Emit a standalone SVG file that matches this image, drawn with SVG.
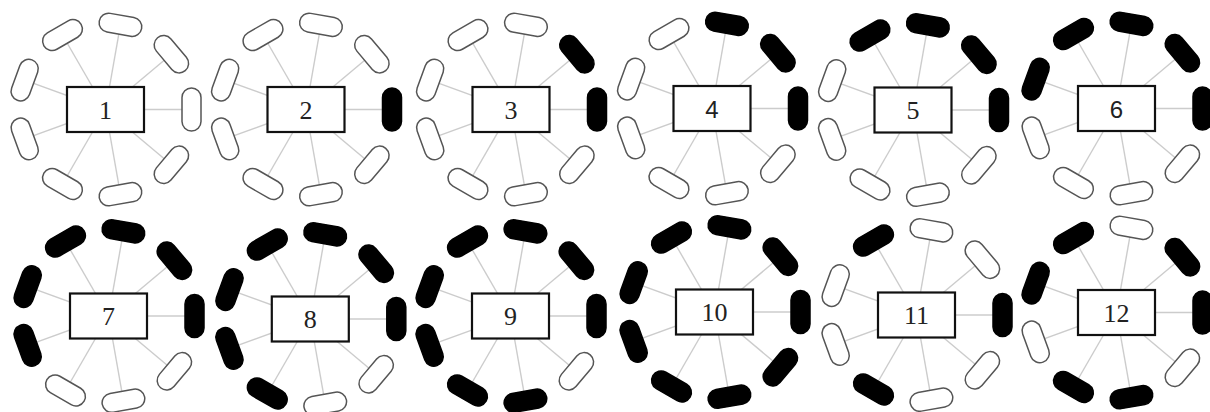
<svg xmlns="http://www.w3.org/2000/svg" xmlns:xlink="http://www.w3.org/1999/xlink" width="1210" height="412" viewBox="0 0 1210 412">
<style>
.bg{fill:#fff}
.conn{stroke:#cccccc;stroke-width:1.4;fill:none}
.box{fill:#fff;stroke:#111;stroke-width:2.2}
.num{font-family:"Liberation Serif","Times New Roman",serif;font-size:26px;fill:#222;text-anchor:middle}
.sans{font-family:"Liberation Sans",Arial,sans-serif;font-size:24px}
.off{fill:#fff;stroke:#555;stroke-width:1.5}
.on{fill:#000;stroke:#000;stroke-width:1.5}
</style>
<defs>
<rect id="pill" x="-9.5" y="-21.5" width="19" height="43" rx="9.5" ry="9.5"/>
<g id="spokes">
<line x1="0" y1="0" x2="86" y2="0"/>
<line x1="0" y1="0" x2="86" y2="0" transform="rotate(40)"/>
<line x1="0" y1="0" x2="86" y2="0" transform="rotate(80)"/>
<line x1="0" y1="0" x2="86" y2="0" transform="rotate(120)"/>
<line x1="0" y1="0" x2="86" y2="0" transform="rotate(160)"/>
<line x1="0" y1="0" x2="86" y2="0" transform="rotate(200)"/>
<line x1="0" y1="0" x2="86" y2="0" transform="rotate(240)"/>
<line x1="0" y1="0" x2="86" y2="0" transform="rotate(280)"/>
<line x1="0" y1="0" x2="86" y2="0" transform="rotate(320)"/>
</g>
</defs>
<rect class="bg" x="0" y="0" width="1210" height="412"/>
<g id="connectors" class="conn">
<use xlink:href="#spokes" transform="translate(105.5,109.5)"/>
<use xlink:href="#spokes" transform="translate(306,109.5)"/>
<use xlink:href="#spokes" transform="translate(511,109.5)"/>
<use xlink:href="#spokes" transform="translate(712,108.5)"/>
<use xlink:href="#spokes" transform="translate(913,110)"/>
<use xlink:href="#spokes" transform="translate(1116.5,108.5)"/>
<use xlink:href="#spokes" transform="translate(108.5,316)"/>
<use xlink:href="#spokes" transform="translate(310.3,319)"/>
<use xlink:href="#spokes" transform="translate(510.5,316)"/>
<use xlink:href="#spokes" transform="translate(714.5,312)"/>
<use xlink:href="#spokes" transform="translate(916.5,315)"/>
<use xlink:href="#spokes" transform="translate(1116.5,312.5)"/>
</g>

<g id="panel-1" transform="translate(105.5,109.5)">
<g id="box-1"><rect class="box" x="-38.5" y="-22.5" width="77" height="45"/><text class="num" x="0" y="9">1</text></g>
<g id="pills-1">
<use xlink:href="#pill" class="off" transform="rotate(0) translate(86,0)"/>
<use xlink:href="#pill" class="off" transform="rotate(40) translate(86,0)"/>
<use xlink:href="#pill" class="off" transform="rotate(80) translate(86,0)"/>
<use xlink:href="#pill" class="off" transform="rotate(120) translate(86,0)"/>
<use xlink:href="#pill" class="off" transform="rotate(160) translate(86,0)"/>
<use xlink:href="#pill" class="off" transform="rotate(200) translate(86,0)"/>
<use xlink:href="#pill" class="off" transform="rotate(240) translate(86,0)"/>
<use xlink:href="#pill" class="off" transform="rotate(280) translate(86,0)"/>
<use xlink:href="#pill" class="off" transform="rotate(320) translate(86,0)"/>
</g>
</g>

<g id="panel-2" transform="translate(306,109.5)">
<g id="box-2"><rect class="box" x="-38.5" y="-22.5" width="77" height="45"/><text class="num" x="0" y="9">2</text></g>
<g id="pills-2">
<use xlink:href="#pill" class="on" transform="rotate(0) translate(86,0)"/>
<use xlink:href="#pill" class="off" transform="rotate(40) translate(86,0)"/>
<use xlink:href="#pill" class="off" transform="rotate(80) translate(86,0)"/>
<use xlink:href="#pill" class="off" transform="rotate(120) translate(86,0)"/>
<use xlink:href="#pill" class="off" transform="rotate(160) translate(86,0)"/>
<use xlink:href="#pill" class="off" transform="rotate(200) translate(86,0)"/>
<use xlink:href="#pill" class="off" transform="rotate(240) translate(86,0)"/>
<use xlink:href="#pill" class="off" transform="rotate(280) translate(86,0)"/>
<use xlink:href="#pill" class="off" transform="rotate(320) translate(86,0)"/>
</g>
</g>

<g id="panel-3" transform="translate(511,109.5)">
<g id="box-3"><rect class="box" x="-38.5" y="-22.5" width="77" height="45"/><text class="num" x="0" y="9">3</text></g>
<g id="pills-3">
<use xlink:href="#pill" class="on" transform="rotate(0) translate(86,0)"/>
<use xlink:href="#pill" class="off" transform="rotate(40) translate(86,0)"/>
<use xlink:href="#pill" class="off" transform="rotate(80) translate(86,0)"/>
<use xlink:href="#pill" class="off" transform="rotate(120) translate(86,0)"/>
<use xlink:href="#pill" class="off" transform="rotate(160) translate(86,0)"/>
<use xlink:href="#pill" class="off" transform="rotate(200) translate(86,0)"/>
<use xlink:href="#pill" class="off" transform="rotate(240) translate(86,0)"/>
<use xlink:href="#pill" class="off" transform="rotate(280) translate(86,0)"/>
<use xlink:href="#pill" class="on" transform="rotate(320) translate(86,0)"/>
</g>
</g>

<g id="panel-4" transform="translate(712,108.5)">
<g id="box-4"><rect class="box" x="-38.5" y="-22.5" width="77" height="45"/><text class="num sans" x="0" y="9">4</text></g>
<g id="pills-4">
<use xlink:href="#pill" class="on" transform="rotate(0) translate(86,0)"/>
<use xlink:href="#pill" class="off" transform="rotate(40) translate(86,0)"/>
<use xlink:href="#pill" class="off" transform="rotate(80) translate(86,0)"/>
<use xlink:href="#pill" class="off" transform="rotate(120) translate(86,0)"/>
<use xlink:href="#pill" class="off" transform="rotate(160) translate(86,0)"/>
<use xlink:href="#pill" class="off" transform="rotate(200) translate(86,0)"/>
<use xlink:href="#pill" class="off" transform="rotate(240) translate(86,0)"/>
<use xlink:href="#pill" class="on" transform="rotate(280) translate(86,0)"/>
<use xlink:href="#pill" class="on" transform="rotate(320) translate(86,0)"/>
</g>
</g>

<g id="panel-5" transform="translate(913,110)">
<g id="box-5"><rect class="box" x="-38.5" y="-22.5" width="77" height="45"/><text class="num" x="0" y="9">5</text></g>
<g id="pills-5">
<use xlink:href="#pill" class="on" transform="rotate(0) translate(86,0)"/>
<use xlink:href="#pill" class="off" transform="rotate(40) translate(86,0)"/>
<use xlink:href="#pill" class="off" transform="rotate(80) translate(86,0)"/>
<use xlink:href="#pill" class="off" transform="rotate(120) translate(86,0)"/>
<use xlink:href="#pill" class="off" transform="rotate(160) translate(86,0)"/>
<use xlink:href="#pill" class="off" transform="rotate(200) translate(86,0)"/>
<use xlink:href="#pill" class="on" transform="rotate(240) translate(86,0)"/>
<use xlink:href="#pill" class="on" transform="rotate(280) translate(86,0)"/>
<use xlink:href="#pill" class="on" transform="rotate(320) translate(86,0)"/>
</g>
</g>

<g id="panel-6" transform="translate(1116.5,108.5)">
<g id="box-6"><rect class="box" x="-38.5" y="-22.5" width="77" height="45"/><text class="num sans" x="0" y="9">6</text></g>
<g id="pills-6">
<use xlink:href="#pill" class="on" transform="rotate(0) translate(86,0)"/>
<use xlink:href="#pill" class="off" transform="rotate(40) translate(86,0)"/>
<use xlink:href="#pill" class="off" transform="rotate(80) translate(86,0)"/>
<use xlink:href="#pill" class="off" transform="rotate(120) translate(86,0)"/>
<use xlink:href="#pill" class="off" transform="rotate(160) translate(86,0)"/>
<use xlink:href="#pill" class="on" transform="rotate(200) translate(86,0)"/>
<use xlink:href="#pill" class="on" transform="rotate(240) translate(86,0)"/>
<use xlink:href="#pill" class="on" transform="rotate(280) translate(86,0)"/>
<use xlink:href="#pill" class="on" transform="rotate(320) translate(86,0)"/>
</g>
</g>

<g id="panel-7" transform="translate(108.5,316)">
<g id="box-7"><rect class="box" x="-38.5" y="-22.5" width="77" height="45"/><text class="num" x="0" y="9">7</text></g>
<g id="pills-7">
<use xlink:href="#pill" class="on" transform="rotate(0) translate(86,0)"/>
<use xlink:href="#pill" class="off" transform="rotate(40) translate(86,0)"/>
<use xlink:href="#pill" class="off" transform="rotate(80) translate(86,0)"/>
<use xlink:href="#pill" class="off" transform="rotate(120) translate(86,0)"/>
<use xlink:href="#pill" class="on" transform="rotate(160) translate(86,0)"/>
<use xlink:href="#pill" class="on" transform="rotate(200) translate(86,0)"/>
<use xlink:href="#pill" class="on" transform="rotate(240) translate(86,0)"/>
<use xlink:href="#pill" class="on" transform="rotate(280) translate(86,0)"/>
<use xlink:href="#pill" class="on" transform="rotate(320) translate(86,0)"/>
</g>
</g>

<g id="panel-8" transform="translate(310.3,319)">
<g id="box-8"><rect class="box" x="-38.5" y="-22.5" width="77" height="45"/><text class="num" x="0" y="9">8</text></g>
<g id="pills-8">
<use xlink:href="#pill" class="on" transform="rotate(0) translate(86,0)"/>
<use xlink:href="#pill" class="off" transform="rotate(40) translate(86,0)"/>
<use xlink:href="#pill" class="off" transform="rotate(80) translate(86,0)"/>
<use xlink:href="#pill" class="on" transform="rotate(120) translate(86,0)"/>
<use xlink:href="#pill" class="on" transform="rotate(160) translate(86,0)"/>
<use xlink:href="#pill" class="on" transform="rotate(200) translate(86,0)"/>
<use xlink:href="#pill" class="on" transform="rotate(240) translate(86,0)"/>
<use xlink:href="#pill" class="on" transform="rotate(280) translate(86,0)"/>
<use xlink:href="#pill" class="on" transform="rotate(320) translate(86,0)"/>
</g>
</g>

<g id="panel-9" transform="translate(510.5,316)">
<g id="box-9"><rect class="box" x="-38.5" y="-22.5" width="77" height="45"/><text class="num" x="0" y="9">9</text></g>
<g id="pills-9">
<use xlink:href="#pill" class="on" transform="rotate(0) translate(86,0)"/>
<use xlink:href="#pill" class="off" transform="rotate(40) translate(86,0)"/>
<use xlink:href="#pill" class="on" transform="rotate(80) translate(86,0)"/>
<use xlink:href="#pill" class="on" transform="rotate(120) translate(86,0)"/>
<use xlink:href="#pill" class="on" transform="rotate(160) translate(86,0)"/>
<use xlink:href="#pill" class="on" transform="rotate(200) translate(86,0)"/>
<use xlink:href="#pill" class="on" transform="rotate(240) translate(86,0)"/>
<use xlink:href="#pill" class="on" transform="rotate(280) translate(86,0)"/>
<use xlink:href="#pill" class="on" transform="rotate(320) translate(86,0)"/>
</g>
</g>

<g id="panel-10" transform="translate(714.5,312)">
<g id="box-10"><rect class="box" x="-38.5" y="-22.5" width="77" height="45"/><text class="num" x="0" y="9">10</text></g>
<g id="pills-10">
<use xlink:href="#pill" class="on" transform="rotate(0) translate(86,0)"/>
<use xlink:href="#pill" class="on" transform="rotate(40) translate(86,0)"/>
<use xlink:href="#pill" class="on" transform="rotate(80) translate(86,0)"/>
<use xlink:href="#pill" class="on" transform="rotate(120) translate(86,0)"/>
<use xlink:href="#pill" class="on" transform="rotate(160) translate(86,0)"/>
<use xlink:href="#pill" class="on" transform="rotate(200) translate(86,0)"/>
<use xlink:href="#pill" class="on" transform="rotate(240) translate(86,0)"/>
<use xlink:href="#pill" class="on" transform="rotate(280) translate(86,0)"/>
<use xlink:href="#pill" class="on" transform="rotate(320) translate(86,0)"/>
</g>
</g>

<g id="panel-11" transform="translate(916.5,315)">
<g id="box-11"><rect class="box" x="-38.5" y="-22.5" width="77" height="45"/><text class="num" x="0" y="9">11</text></g>
<g id="pills-11">
<use xlink:href="#pill" class="on" transform="rotate(0) translate(86,0)"/>
<use xlink:href="#pill" class="off" transform="rotate(40) translate(86,0)"/>
<use xlink:href="#pill" class="off" transform="rotate(80) translate(86,0)"/>
<use xlink:href="#pill" class="on" transform="rotate(120) translate(86,0)"/>
<use xlink:href="#pill" class="off" transform="rotate(160) translate(86,0)"/>
<use xlink:href="#pill" class="off" transform="rotate(200) translate(86,0)"/>
<use xlink:href="#pill" class="on" transform="rotate(240) translate(86,0)"/>
<use xlink:href="#pill" class="off" transform="rotate(280) translate(86,0)"/>
<use xlink:href="#pill" class="off" transform="rotate(320) translate(86,0)"/>
</g>
</g>

<g id="panel-12" transform="translate(1116.5,312.5)">
<g id="box-12"><rect class="box" x="-38.5" y="-22.5" width="77" height="45"/><text class="num" x="0" y="9">12</text></g>
<g id="pills-12">
<use xlink:href="#pill" class="on" transform="rotate(0) translate(86,0)"/>
<use xlink:href="#pill" class="off" transform="rotate(40) translate(86,0)"/>
<use xlink:href="#pill" class="on" transform="rotate(80) translate(86,0)"/>
<use xlink:href="#pill" class="on" transform="rotate(120) translate(86,0)"/>
<use xlink:href="#pill" class="off" transform="rotate(160) translate(86,0)"/>
<use xlink:href="#pill" class="on" transform="rotate(200) translate(86,0)"/>
<use xlink:href="#pill" class="on" transform="rotate(240) translate(86,0)"/>
<use xlink:href="#pill" class="off" transform="rotate(280) translate(86,0)"/>
<use xlink:href="#pill" class="on" transform="rotate(320) translate(86,0)"/>
</g>
</g>
</svg>
